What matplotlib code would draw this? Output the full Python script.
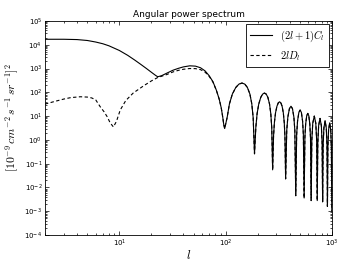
import matplotlib
matplotlib.use('Agg')
import matplotlib.pyplot as plt

# (2l+1)C_l at low multipoles, up to the first dip
ell_low = [2, 3, 4, 5, 6, 7, 8, 10, 12, 14, 16, 18, 20, 22, 23, 25, 28, 32,
           36, 40, 46, 52, 58, 64, 70, 76, 82, 87, 91, 94, 96]
cl_low = [1.7e4, 1.7e4, 1.65e4, 1.51e4, 1.3e4, 1.1e4, 9.0e3, 5.75e3, 3.58e3,
          2.25e3, 1.47e3, 1.0e3, 700, 510, 450, 500, 640, 850, 1020, 1170,
          1300, 1260, 1080, 800, 500, 280, 120, 52, 22, 9, 4.5]

# 2lD_l at low multipoles
ell_dash_low = [2, 2.5, 3, 3.5, 4.3, 5, 5.5, 6, 6.6, 7.2, 7.7, 8.2, 8.8,
                9.4, 10.2, 11.5, 13.5, 17, 20, 23, 28, 32, 36, 40, 46, 52,
                58, 64, 70, 76, 82, 87, 91, 94, 96]
dl_low = [32, 42, 52, 60, 65, 63, 58, 48, 25, 15, 9.3, 5.2, 3.5, 6.0, 18,
          45, 93, 190, 300, 420, 560, 720, 840, 930, 1000, 990, 900, 710,
          470, 270, 118, 52, 22, 9, 4.5]

# acoustic tail, shared by both curves
ell_tail = [98, 103.3, 108.7, 115.8, 124.7, 133.6, 142.5, 151.4, 160.3, 169.2,
            176.3, 181.7,
            187, 192.4, 197.8, 205, 214, 223, 232, 241, 250, 259, 266.2, 271.6,
            277, 282.4, 287.8, 295, 304, 313, 322, 331, 340, 349, 356.2, 361.6,
            367, 376, 385, 398.5, 412, 425.5, 439, 448,
            457, 466.1, 475.2, 488.9, 502.5, 516.2, 529.8, 538.9,
            548, 557, 566, 579.5, 593, 606.5, 620, 629,
            638, 647, 660.5, 683, 705.5, 719,
            728, 737, 750.5, 773, 795.5, 809,
            818, 827, 840.5, 863, 885.5, 899,
            908, 917, 930.5, 953, 975.5, 989,
            998]
power_tail = [3.0, 8.6, 33, 85, 160, 222, 245, 222, 160, 85, 33, 8.6,
              0.26, 3.3, 12.6, 32, 61, 84, 93, 84, 61, 32, 12.6, 3.3,
              0.055, 1.4, 5.4, 13.8, 26, 36, 40, 36, 26, 13.8, 5.4, 1.4,
              0.023, 2.5, 9.0, 20.6, 26, 20.6, 9.0, 2.5,
              0.0045, 1.7, 6.2, 14.3, 18, 14.3, 6.2, 1.7,
              0.0036, 1.24, 4.5, 10.3, 13, 10.3, 4.5, 1.24,
              0.0028, 0.955, 5.0, 10, 5.0, 0.955,
              0.0028, 0.76, 4.0, 8.0, 4.0, 0.76,
              0.0025, 0.6, 3.15, 6.3, 3.15, 0.6,
              0.0016, 0.5, 2.6, 5.2, 2.6, 0.5,
              0.001]

plt.rcParams['mathtext.fontset'] = 'cm'

fig = plt.figure(figsize=(3.49, 2.62), dpi=100, facecolor='white')
ax = fig.add_axes([0.129, 0.103, 0.822, 0.817])

ax.plot(ell_low + ell_tail, cl_low + power_tail, color='black', lw=0.8,
        label=r'$(2l+1)C_l$')
ax.plot(ell_dash_low + ell_tail, dl_low + power_tail, color='black', lw=0.8,
        ls='--', dashes=(3, 2.2), label=r'$2lD_l$')

ax.set_xscale('log')
ax.set_yscale('log')
ax.set_xlim(2, 1000)
ax.set_ylim(1e-4, 1e5)

ax.tick_params(which='both', direction='in', top=True, right=True,
               labelsize=5, width=0.5, pad=2)
ax.tick_params(which='major', length=3)
ax.tick_params(which='minor', length=1.5)
for sp in ax.spines.values():
    sp.set_linewidth(0.6)

ax.set_title('Angular power spectrum', fontsize=6.5, pad=3)
ax.set_xlabel(r'$l$', fontsize=9, labelpad=0)
ax.set_ylabel(r'$[10^{-9}\,cm^{-2}\,s^{-1}\,sr^{-1}]^2$', fontsize=8.5)
ax.yaxis.set_label_coords(-0.085, 0.55)

leg = ax.legend(loc='upper right', fontsize=7.5, fancybox=False,
                edgecolor='black', framealpha=1, handlelength=2.1,
                handletextpad=0.8, borderaxespad=0.3, labelspacing=0.5)
leg.get_frame().set_linewidth(0.6)

fig.savefig('out.png', dpi=100, facecolor='white')
